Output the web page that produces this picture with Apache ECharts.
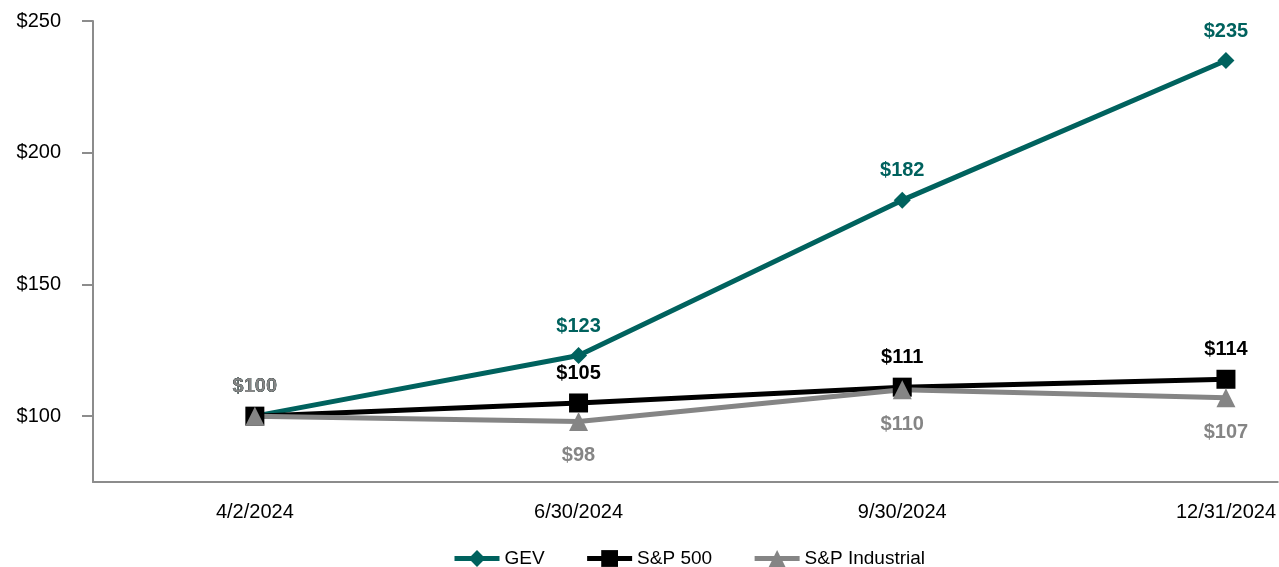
<!DOCTYPE html>
<html>
<head>
<meta charset="utf-8">
<script src="https://cdn.jsdelivr.net/npm/echarts@6/dist/echarts.min.js"></script>
<style>html,body{margin:0;padding:0;background:#fff}#c{width:1279px;height:567px}</style>
</head>
<body>
<div id="c"></div>
<script>
const categories = ['4/2/2024', '6/30/2024', '9/30/2024', '12/31/2024'];
const gev = [100, 123, 182, 235];
const sp500 = [100, 105, 111, 114];
const spIndustrial = [100, 98, 110, 107];
const yTicks = [100, 150, 200, 250];

const TEAL = '#00625e', BLACK = '#000000', GRAY = '#858585';
const FONT = 'Liberation Sans, Arial, sans-serif';
const pairs = arr => arr.map((v, i) => [i, v]);
const xIdx = categories.map((c, i) => i);

const chart = echarts.init(document.getElementById('c'));
chart.setOption({
  animation: false,
  textStyle: { fontFamily: FONT },
  grid: { left: 93, top: 21, right: 0, bottom: 85, containLabel: false },
  legend: {
    top: 544,
    left: 447,
    itemWidth: 45,
    itemHeight: 21,
    itemGap: 40,
    lineStyle: { width: 5 },
    textStyle: { fontSize: 19, color: '#000', fontFamily: FONT },
    data: ['GEV', 'S&P 500', 'S&P Industrial']
  },
  xAxis: {
    type: 'value',
    min: -0.5,
    max: 3.16,
    splitLine: { show: false },
    axisLine: { onZero: false, lineStyle: { color: '#8c8c8c', width: 2 } },
    axisTick: { show: false },
    axisLabel: { fontSize: 20, color: '#000', margin: 20, customValues: xIdx,
      formatter: v => categories[Math.round(v)] }
  },
  yAxis: {
    type: 'value',
    min: 75,
    max: 250,
    splitLine: { show: false },
    axisLine: { show: true, onZero: false, lineStyle: { color: '#8c8c8c', width: 2 } },
    axisTick: { show: true, length: 11, lineStyle: { color: '#8c8c8c', width: 2 }, customValues: yTicks },
    axisLabel: { fontSize: 20, color: '#000', margin: 32, customValues: yTicks, formatter: v => '$' + v }
  },
  series: [
    {
      name: 'GEV', type: 'line', data: pairs(gev),
      symbol: 'diamond', symbolSize: 17,
      lineStyle: { color: TEAL, width: 5 }, itemStyle: { color: TEAL },
      label: { show: true, position: 'top', distance: 11, formatter: p => '$' + p.value[1],
        fontSize: 20, fontWeight: 'bold', color: TEAL }
    },
    {
      name: 'S&P 500', type: 'line', data: pairs(sp500),
      symbol: 'rect', symbolSize: 19,
      lineStyle: { color: BLACK, width: 5 }, itemStyle: { color: BLACK },
      label: { show: true, position: 'top', distance: 10, formatter: p => '$' + p.value[1],
        fontSize: 20, fontWeight: 'bold', color: BLACK }
    },
    {
      name: 'S&P Industrial', type: 'line',
      data: pairs(spIndustrial).map((d, i) => i === 0
        ? { value: d, label: { position: 'top', distance: 10 } } : d),
      symbol: 'triangle', symbolSize: 19,
      lineStyle: { color: GRAY, width: 5 }, itemStyle: { color: GRAY },
      label: { show: true, position: 'bottom', distance: 15, formatter: p => '$' + p.value[1],
        fontSize: 20, fontWeight: 'bold', color: GRAY }
    }
  ]
});
</script>
</body>
</html>
